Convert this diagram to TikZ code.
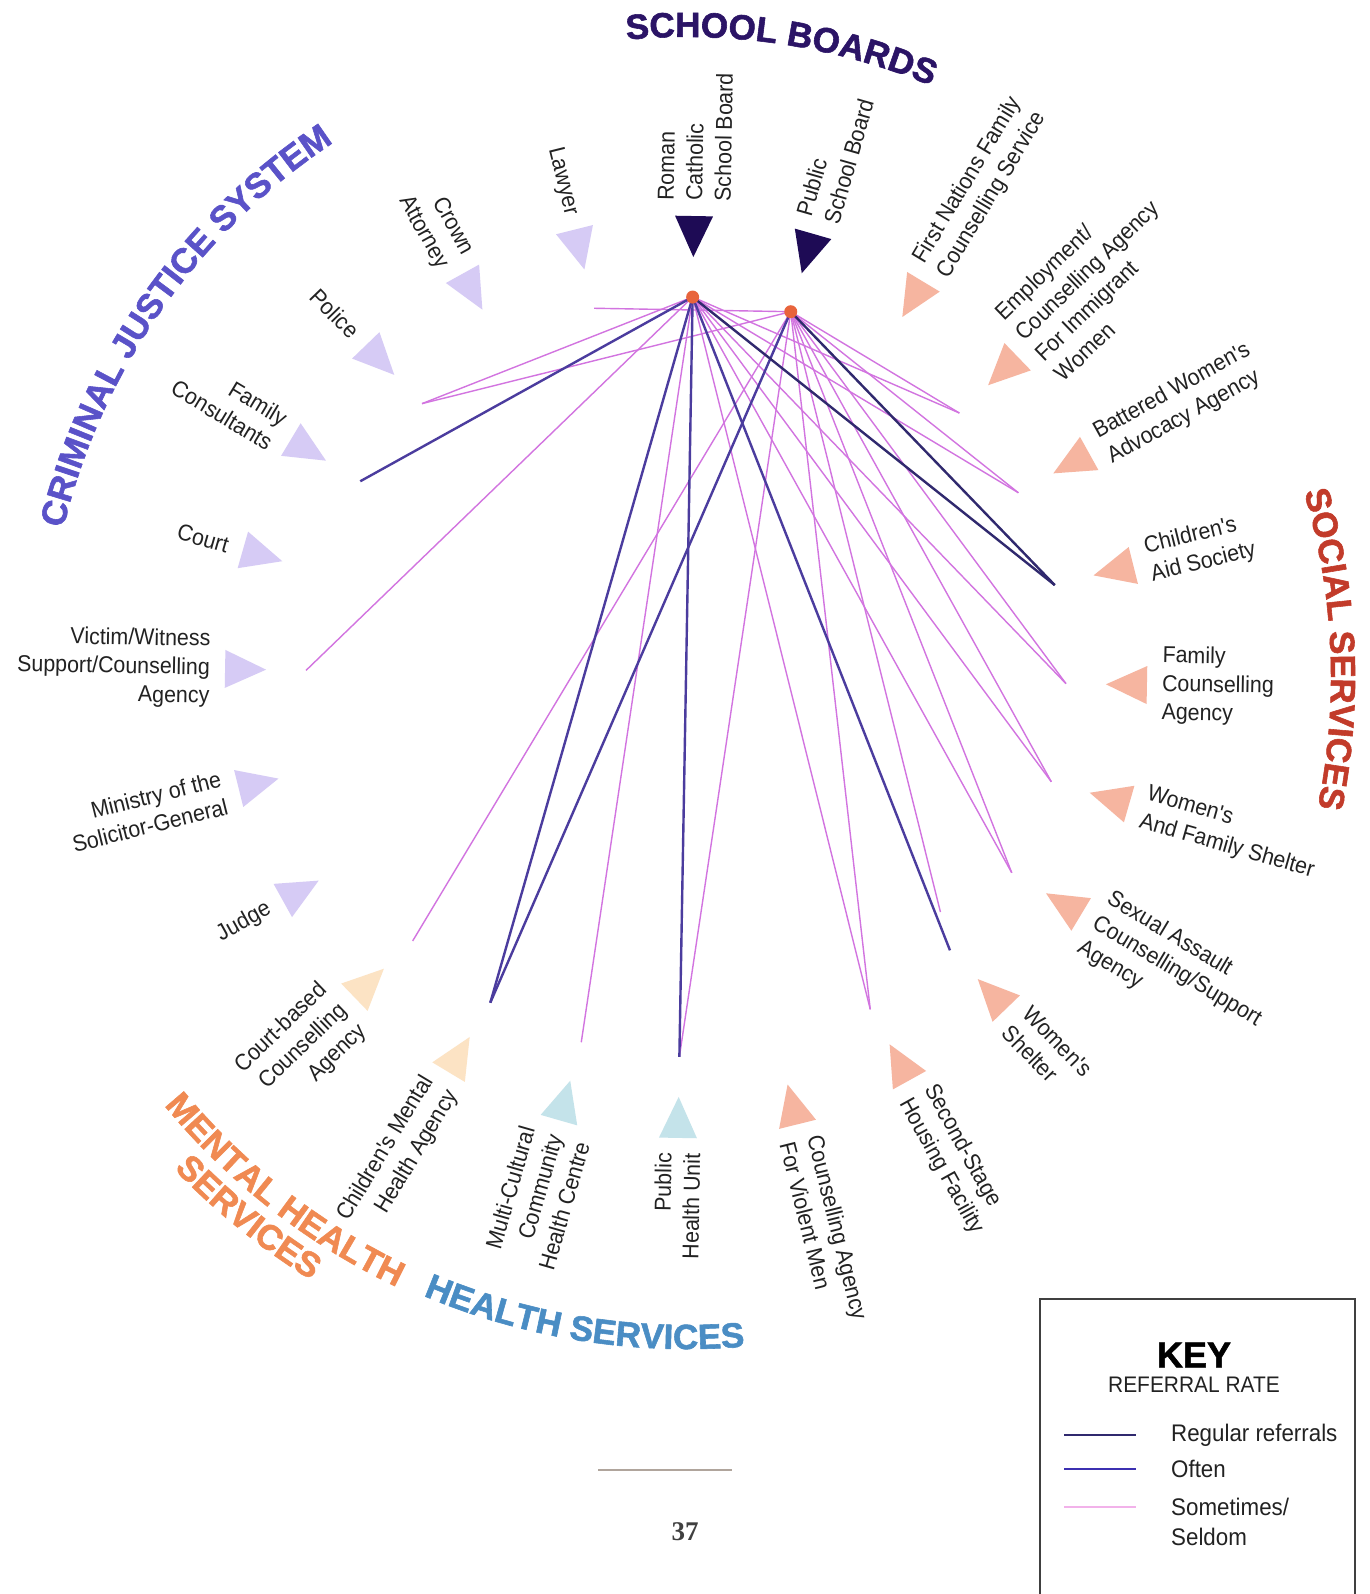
\documentclass[tikz,border=0pt]{standalone}
\usepackage{fontspec}
\setmainfont{Liberation Sans}
\newfontfamily\labfam[FakeStretch=0.93]{Liberation Sans}
\newfontfamily\ttlfam[BoldFeatures={FakeBold=1.6}]{Liberation Sans}
\newfontfamily\pgnumfam{Liberation Serif}
\usetikzlibrary{calc,decorations.text}
\definecolor{cjsc}{HTML}{5A52C8}
\definecolor{sbc}{HTML}{2B1466}
\definecolor{socc}{HTML}{C23B2A}
\definecolor{mhc}{HTML}{F08A52}
\definecolor{hsc}{HTML}{4A8DC4}
\definecolor{tricjs}{HTML}{D6CBF5}
\definecolor{trisb}{HTML}{1E0B55}
\definecolor{trisoc}{HTML}{F6B5A0}
\definecolor{trimh}{HTML}{FCE3C4}
\definecolor{trihs}{HTML}{C4E3EA}
\definecolor{regc}{HTML}{30296E}
\definecolor{oftc}{HTML}{4B3C9E}
\definecolor{pinkc}{HTML}{D274E0}
\definecolor{keypink}{HTML}{F2B2EA}
\definecolor{dotc}{HTML}{E8643C}
\definecolor{labc}{HTML}{222222}
\definecolor{rulec}{HTML}{B0A59C}
\newcommand\ttlfont{\ttlfam\bfseries\fontsize{35}{40}\selectfont}
% right-hand agency: angle, name, triangle colour, label
\newcommand\agR[4]{%
  \fill[#3] (#1:420) -- ($(#1:461)+({#1+90}:19)$) -- ($(#1:461)+({#1-90}:19)$) -- cycle;
  \coordinate (#2) at (#1:380);
  \node[lab, rotate=#1, anchor=west, align=left] (#2-lab) at (#1:476) {#4};
}
% left-hand agency
\newcommand\agL[4]{%
  \fill[#3] (#1:420) -- ($(#1:461)+({#1+90}:19)$) -- ($(#1:461)+({#1-90}:19)$) -- cycle;
  \coordinate (#2) at (#1:380);
  \node[lab, rotate={#1+180}, anchor=east, align=right] (#2-lab) at (#1:476) {#4};
}
\begin{document}
\begin{tikzpicture}[x=1pt,y=1pt,
  lab/.style={font=\labfam\fontsize{23}{28.5}\selectfont, text=labc, inner sep=0pt},
  pinkln/.style={draw=pinkc, line width=1.4},
  oftenln/.style={draw=oftc, line width=2.4},
  regln/.style={draw=regc, line width=2.4},
  dotn/.style={circle, fill=dotc, inner sep=0pt, minimum size=13},
  boxln/.style={draw=black!75, line width=1.6},
  ttl/.style={decorate, decoration={text along path, text align=center, text color=#1}}
]
\useasboundingbox (0,0) rectangle (1369,1594);
\fill[white] (0,0) rectangle (1369,1594);
\begin{scope}[shift={(686,917)}]
  % agencies
  \agR{89}{rc}{trisb}{Roman\\Catholic\\School Board}
  \agR{74}{psb}{trisb}{Public\\School Board}
  \agR{59}{firstn}{trisoc}{First Nations Family\\Counselling Service}
  \agR{44}{employ}{trisoc}{Employment/\\Counselling Agency\\For Immigrant\\Women}
  \agR{29}{battered}{trisoc}{Battered Women's\\Advocacy Agency}
  \agR{14}{childaid}{trisoc}{Children's\\Aid Society}
  \agR{-1}{famcouns}{trisoc}{Family\\Counselling\\Agency}
  \agR{-16}{wfshelter}{trisoc}{Women's\\And Family Shelter}
  \agR{-31}{sexassault}{trisoc}{Sexual Assault\\Counselling/Support\\Agency}
  \agR{-46}{wshelter}{trisoc}{Women's\\Shelter}
  \agR{-61}{secstage}{trisoc}{Second-Stage\\Housing Facility}
  \agR{-76}{cvm}{trisoc}{Counselling Agency\\For Violent Men}
  \agL{-91}{phu}{trihs}{Public\\Health Unit}
  \agL{-106}{multic}{trihs}{Multi-Cultural\\Community\\Health Centre}
  \agL{-121}{cmh}{trimh}{Children's Mental\\Health Agency}
  \agL{-136}{courtb}{trimh}{Court-based\\Counselling\\Agency}
  \agL{-151}{judge}{tricjs}{Judge}
  \agL{-166}{ministry}{tricjs}{Ministry of the\\Solicitor-General}
  \agL{-181}{victim}{tricjs}{Victim/Witness\\Support/Counselling\\Agency}
  \agL{-196}{court}{tricjs}{Court}
  \agL{-211}{famcons}{tricjs}{Family\\Consultants}
  \agL{-226}{police}{tricjs}{Police}
  \agL{-241}{crown}{tricjs}{Crown\\Attorney}
  \agL{-256}{lawyer}{tricjs}{Lawyer}
  % connectors: sometimes / seldom
  \foreach \t in {police,victim,multic,secstage,sexassault,wfshelter,famcouns,battered,employ}
    \draw[pinkln] (rc) -- (\t);
  \foreach \t in {lawyer,police,courtb,phu,secstage,sexassault,wfshelter,famcouns,battered,employ}
    \draw[pinkln] (psb) -- (\t);
  \draw[pinkln] (psb) -- ($(psb)!0.94!(wshelter)$);
  % often
  \foreach \t in {famcons,cmh,phu,wshelter}
    \draw[oftenln] (rc) -- (\t);
  \draw[oftenln] (psb) -- (cmh);
  % regular
  \draw[regln] (rc) -- (childaid);
  \draw[regln] (psb) -- (childaid);
  % sources
  \node[dotn] (rcdot) at (rc) {};
  \node[dotn] (psbdot) at (psb) {};
  % section titles
  \path[ttl=sbc, decoration={text={|\ttlfont|SCHOOL BOARDS}}]
    (126.4:640) arc[start angle=126.4, end angle=36.4, radius=640];
  \path[ttl=cjsc, decoration={text={|\ttlfont|CRIMINAL JUSTICE SYSTEM}}]
    (190:640) arc[start angle=190, end angle=100, radius=640];
  \path[ttl=socc, decoration={text={|\ttlfont|SOCIAL SERVICES}}]
    (47.5:645) arc[start angle=47.5, end angle=-42.5, radius=645];
  \path[ttl=mhc, decoration={text={|\ttlfont|MENTAL HEALTH}}]
    (187:675) arc[start angle=187, end angle=277, radius=675];
  \path[ttl=mhc, decoration={text={|\ttlfont|SERVICES}}]
    (186:710) arc[start angle=186, end angle=276, radius=710];
  \path[ttl=hsc, decoration={text={|\ttlfont|HEALTH SERVICES}}]
    (216:672) arc[start angle=216, end angle=306, radius=672];
\end{scope}
% key
\draw[boxln] (1040,0) -- (1040,295) -- (1355,295) -- (1355,0);
\node[font=\ttlfam\bfseries\fontsize{36}{40}\selectfont] (key) at (1194,239) {KEY};
\node[font=\labfam\fontsize{22.5}{27}\selectfont, text=labc] (rrate) at (1194,209) {REFERRAL RATE};
\coordinate (k1a) at (1064,159); \coordinate (k1b) at (1136,159);
\coordinate (k2a) at (1064,125); \coordinate (k2b) at (1136,125);
\coordinate (k3a) at (1064,87);  \coordinate (k3b) at (1136,87);
\draw[regln] (k1a) -- (k1b);
\draw[draw=oftc!80!blue, line width=2.4] (k2a) -- (k2b);
\draw[draw=keypink, line width=2] (k3a) -- (k3b);
\node[lab, anchor=west, font=\labfam\fontsize{24}{30}\selectfont] (k1t) at (1171,159) {Regular referrals};
\node[lab, anchor=west, font=\labfam\fontsize{24}{30}\selectfont] (k2t) at (1171,125) {Often};
\node[lab, anchor=west, align=left, font=\labfam\fontsize{24}{30}\selectfont] (k3t) at (1171,72) {Sometimes/\\Seldom};
% page foot
\coordinate (rulea) at (598,124); \coordinate (ruleb) at (732,124);
\draw[rulec, line width=2] (rulea) -- (ruleb);
\node[font=\pgnumfam\bfseries\fontsize{27}{30}\selectfont, text=black!75] (pgnum) at (685,62) {37};
\end{tikzpicture}
\end{document}
